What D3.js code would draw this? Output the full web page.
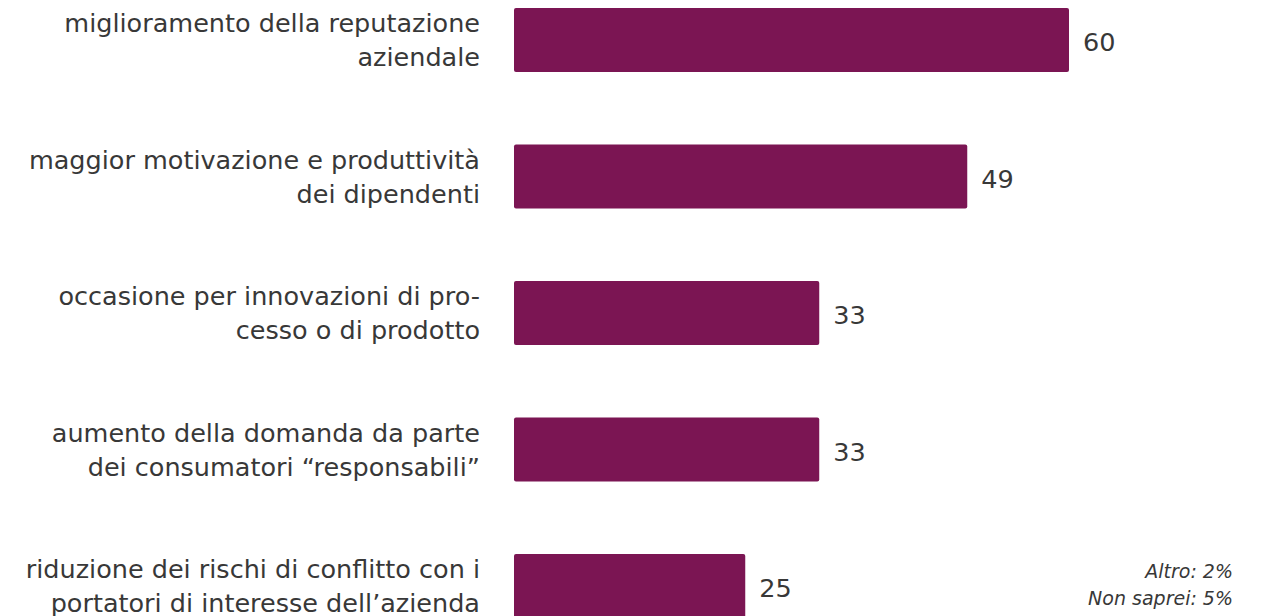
<!DOCTYPE html>
<html>
<head>
<meta charset="utf-8">
<script src="https://cdn.jsdelivr.net/npm/d3@7"></script>
<style>
  html, body { margin: 0; padding: 0; background: #fff; }
  svg { display: block; }
</style>
</head>
<body>
<svg id="chart" width="1268" height="616"></svg>
<script>
// Benefici percepiti (%)
const categories = [
  ["miglioramento della reputazione", "aziendale"],
  ["maggior motivazione e produttività", "dei dipendenti"],
  ["occasione per innovazioni di pro-", "cesso o di prodotto"],
  ["aumento della domanda da parte", "dei consumatori “responsabili”"],
  ["riduzione dei rischi di conflitto con i", "portatori di interesse dell’azienda"]
];
const values = [60, 49, 33, 33, 25];
const notes = ["Altro: 2%", "Non saprei: 5%"];

const svg = d3.select("#chart");
const font = "'DejaVu Sans', sans-serif";
const textColor = "#383838";
const barColor = "#7b1553";

const x = d3.scaleLinear().domain([0, 60]).range([514, 1069]);
const y = d3.scaleBand()
  .domain(d3.range(values.length))
  .range([-28.2, -28.2 + 136.5 * values.length])
  .paddingInner(0.531)
  .paddingOuter(0.2655);

const rows = svg.selectAll("g.row")
  .data(values.map((v, i) => ({ v, label: categories[i], i })))
  .join("g")
  .attr("class", "row");

rows.append("rect")
  .attr("x", x(0))
  .attr("y", d => y(d.i))
  .attr("width", d => x(d.v) - x(0))
  .attr("height", y.bandwidth())
  .attr("rx", 2)
  .attr("fill", barColor);

rows.append("text")
  .attr("x", d => x(d.v) + 14)
  .attr("y", d => y(d.i) + y.bandwidth() / 2 + 11)
  .attr("font-family", font)
  .attr("font-size", 25.5)
  .attr("fill", textColor)
  .text(d => d.v);

rows.append("text")
  .attr("text-anchor", "end")
  .attr("font-family", font)
  .attr("font-size", 25.5)
  .attr("fill", textColor)
  .each(function (d) {
    const cy = y(d.i) + y.bandwidth() / 2;
    d3.select(this).selectAll("tspan")
      .data(d.label)
      .join("tspan")
      .attr("x", 480)
      .attr("y", (t, j) => cy - 8 + j * 34)
      .text(t => t);
  });

svg.append("g")
  .selectAll("text")
  .data(notes)
  .join("text")
  .attr("x", 1233)
  .attr("y", (d, i) => 578 + i * 27)
  .attr("text-anchor", "end")
  .attr("font-family", font)
  .attr("font-style", "italic")
  .attr("font-size", 19)
  .attr("fill", textColor)
  .text(d => d);
</script>
</body>
</html>
